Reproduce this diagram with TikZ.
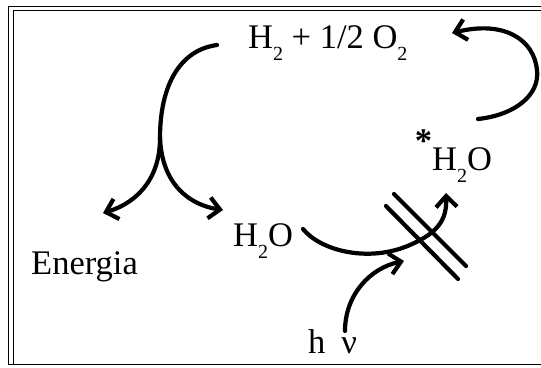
\documentclass[tikz,border=0pt]{standalone}
\usepackage{fontspec}
\setmainfont{Liberation Serif}
\usetikzlibrary{arrows.meta}
\newcommand{\chemsub}[1]{\raisebox{-12pt}{\fontsize{20}{20}\selectfont #1}}

\begin{document}
\begin{tikzpicture}[x={(1pt,0)}, y={(0,-1pt)},
 every node/.style={font=\fontsize{34.5}{40}\selectfont},
 lbl/.style={inner sep=0pt,anchor=base west},
 arr/.style={-{Straight Barb[length=11pt,width=21pt]},line width=4.2pt,line cap=round},
 bar/.style={line width=4.2pt,line cap=round}]
\useasboundingbox (0,0) rectangle (541,367);
\clip (0,0) rectangle (541,367);
% frame
\draw[line width=1.6pt] (560,6.5) -- (8.5,6.5) -- (8.5,364.5) -- (560,364.5);
\draw[line width=1.6pt] (560,10.5) -- (13.5,10.5) -- (13.5,364.5);
% texts
\node[lbl] (sum) at (248,48) {H\chemsub{2} + 1/2 O\chemsub{2}};
\node[lbl] (energia) at (31,274) {Energia};
\node[lbl] (water) at (233,246) {H\chemsub{2}O};
\node[lbl] (excited) at (432,170) {\llap{\raisebox{18pt}{\textbf{*}}}H\chemsub{2}O};
\node[lbl] (hnu) at (308,353) {h\hspace{16pt}ν};
% free ends of the arrows
\coordinate (splitstart) at (217,45);
\coordinate (split) at (160,138);
\coordinate (tipE) at (103,213);
\coordinate (tipW) at (223,210);
\coordinate (wstart) at (303,229);
\coordinate (wmid) at (405,247);
\coordinate (tipX) at (446,193);
\coordinate (hstart) at (345,331);
\coordinate (tipH) at (404,261);
\coordinate (rstart) at (478,119);
\coordinate (rright) at (537,70);
\coordinate (tipR) at (452,33);
% arrows
\draw[line width=4.2pt,line cap=round] (splitstart) .. controls (180,50) and (160,85) .. (split);
\draw[arr] (split) .. controls (160,185) and (130,205) .. (tipE);
\draw[arr] (split) .. controls (162,185) and (190,205) .. (tipW);
\draw[arr] (wstart) .. controls (320,250) and (365,262) .. (wmid) .. controls (438,234) and (447,220) .. (tipX);
\draw[arr] (hstart) .. controls (345,295) and (370,268) .. (tipH);
\draw[arr] (rstart) .. controls (515,115) and (540,95) .. (rright) .. controls (534,40) and (505,20) .. (tipR);
% blocking bars
\draw[bar] (394,194) -- (466,266);
\draw[bar] (386,206) -- (458,279);
\end{tikzpicture}
\end{document}
